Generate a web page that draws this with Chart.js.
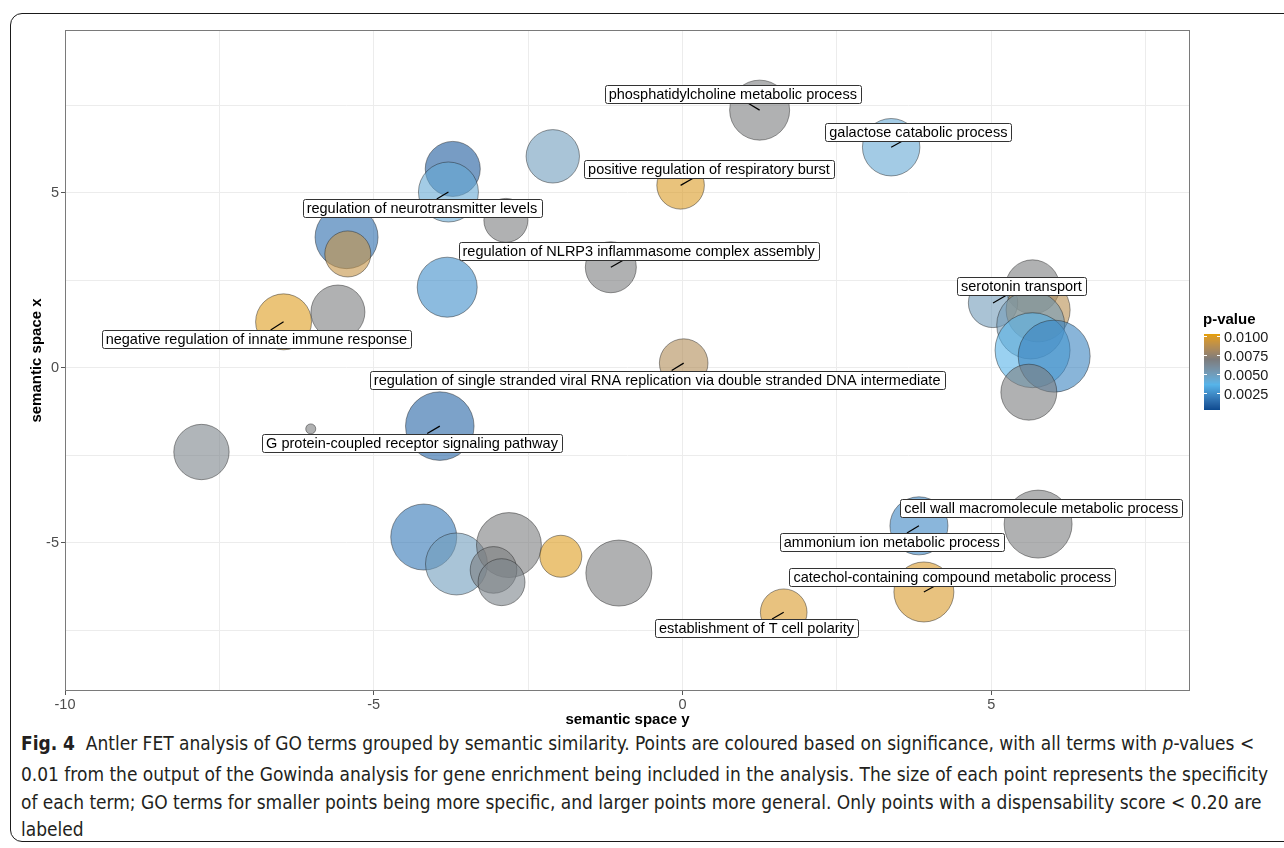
<!DOCTYPE html>
<html>
<head>
<meta charset="utf-8">
<title>Antler FET analysis of GO terms</title>
<script src="https://cdn.jsdelivr.net/npm/chart.js@4.4.1/dist/chart.umd.min.js"></script>
<style>
  html, body { margin: 0; padding: 0; background: #fff; width: 1284px; height: 848px; overflow: hidden; }
  #frame { position: absolute; left: 10px; top: 13px; width: 1320px; height: 829px; border: 1.5px solid #1a1a1a; border-radius: 12px; box-sizing: border-box; }
  #wrap { position: absolute; left: 0; top: 0; width: 1284px; height: 730px; }
  #caption { position: absolute; left: 21px; top: 730px; font-family: "Liberation Sans Narrow", "DejaVu Sans Condensed", "Liberation Sans", sans-serif; font-size: 19px; color: #231f20; }
  #caption .line { position: absolute; left: 0; white-space: nowrap; transform-origin: 0 50%; line-height: 22px; }
</style>
</head>
<body>
<div id="frame"></div>
<div id="wrap"><canvas id="chart" width="1284" height="730"></canvas></div>
<div id="caption">
  <div class="line" style="top:2px"><b>Fig. 4</b>&nbsp; Antler FET analysis of GO terms grouped by semantic similarity. Points are coloured based on significance, with all terms with <i>p</i>-values &lt;</div>
  <div class="line" style="top:33px">0.01 from the output of the Gowinda analysis for gene enrichment being included in the analysis. The size of each point represents the specificity</div>
  <div class="line" style="top:61px">of each term; GO terms for smaller points being more specific, and larger points more general. Only points with a dispensability score &lt; 0.20 are</div>
  <div class="line" style="top:88px">labeled</div>
</div>
<script>
// GO terms: position in semantic space, p-value and log10 term size
const semanticY = [-5.44, -5.42, -3.72, -3.79, -2.86, -2.10, 1.25, -0.03, -1.16, -3.81,
                    3.38, -6.46, -5.58, -6.02, -7.79, -3.93, 0.02, 5.67, 5.03, 5.76,
                    5.64, 5.67, 6.02, 5.61, -4.19, -3.66, -2.81, -3.06, -2.93, -1.97,
                   -1.03, 1.64, 3.83, 5.76, 3.91];
const semanticX = [3.73, 3.25, 5.68, 5.02, 4.21, 6.04, 7.36, 5.21, 2.87, 2.30,
                   6.30, 1.31, 1.59, -1.75, -2.41, -1.67, 0.13, 2.31, 1.85, 1.65,
                   1.22, 0.50, 0.33, -0.70, -4.84, -5.61, -5.07, -5.78, -6.13, -5.39,
                  -5.87, -6.99, -4.52, -4.47, -6.41];
const pValue = [0.0013, 0.0090, 0.0008, 0.0042, 0.0068, 0.0049, 0.0068, 0.0098, 0.0068, 0.0024,
                0.0042, 0.0099, 0.0068, 0.0068, 0.0064, 0.0011, 0.0084, 0.0068, 0.0050, 0.0086,
                0.0051, 0.0036, 0.0021, 0.0068, 0.0017, 0.0049, 0.0068, 0.0068, 0.0064, 0.0099,
                0.0068, 0.0097, 0.0022, 0.0068, 0.0097];
const logSize = [4.20, 3.07, 3.67, 4.00, 2.93, 3.56, 4.00, 3.17, 3.40, 4.00,
                 3.83, 3.73, 3.60, 0.67, 3.69, 4.57, 3.24, 3.60, 3.29, 4.27,
                 4.53, 5.00, 4.80, 3.73, 4.40, 4.13, 4.33, 3.11, 3.13, 2.80,
                 4.40, 3.11, 3.87, 4.53, 4.00];

// Labelled terms (dispensability < 0.20), the point each belongs to, and where its label sits
const labelText = [
  'phosphatidylcholine metabolic process',
  'galactose catabolic process',
  'positive regulation of respiratory burst',
  'regulation of neurotransmitter levels',
  'regulation of NLRP3 inflammasome complex assembly',
  'serotonin transport',
  'negative regulation of innate immune response',
  'regulation of single stranded viral RNA replication via double stranded DNA intermediate',
  'G protein-coupled receptor signaling pathway',
  'cell wall macromolecule metabolic process',
  'ammonium ion metabolic process',
  'catechol-containing compound metabolic process',
  'establishment of T cell polarity'
];
const labelPoint = [6, 10, 7, 3, 8, 18, 11, 16, 15, 33, 32, 34, 31];
const labelY = [0.815, 3.82, 0.43, -4.22, -0.71, 5.49, -6.90, -0.41, -4.38, 5.81, 3.39, 4.37, 1.20];
const labelX = [7.82, 6.73, 5.68, 4.56, 3.32, 2.32, 0.82, -0.34, -2.14, -4.02, -4.98, -5.97, -7.44];

// Axes
const xLimits = [-10, 8.22];
const yLimits = [-9.24, 9.65];
const xGridValues = [-10, -7.5, -5, -2.5, 0, 2.5, 5, 7.5];
const yGridValues = [-7.5, -5, -2.5, 0, 2.5, 5, 7.5];
const majorTicks = [-10, -5, 0, 5];

// Colour scale
const pLimits = [0.00025, 0.0102];
const gradientColours = ['#0B4A8F', '#56B4E9', '#7C7C7C', '#E69F00'];
const legendBreaks = [0.0025, 0.0050, 0.0075, 0.0100];
const legendLabels = ['0.0025', '0.0050', '0.0075', '0.0100'];

const FONT = '"Liberation Sans", Arial, Helvetica, sans-serif';

function sizeToRadius(s) { return 7.5 * s; }

// --- colour interpolation in CIE Lab ---
function toLin(c) { c /= 255; return c <= 0.04045 ? c / 12.92 : Math.pow((c + 0.055) / 1.055, 2.4); }
function fromLin(c) { c = Math.max(0, c); const v = c <= 0.0031308 ? 12.92 * c : 1.055 * Math.pow(c, 1 / 2.4) - 0.055; return Math.max(0, Math.min(255, Math.round(v * 255))); }
function hexRgb(h) { return [parseInt(h.slice(1, 3), 16), parseInt(h.slice(3, 5), 16), parseInt(h.slice(5, 7), 16)]; }
const WX = 0.95047, WZ = 1.08883;
function fLab(t) { return t > 0.008856 ? Math.cbrt(t) : 7.787 * t + 16 / 116; }
function fInv(t) { return t > 0.206893 ? t * t * t : (t - 16 / 116) / 7.787; }
function rgbLab(rgb) {
  const R = toLin(rgb[0]), G = toLin(rgb[1]), B = toLin(rgb[2]);
  const X = (0.4124 * R + 0.3576 * G + 0.1805 * B) / WX;
  const Y = 0.2126 * R + 0.7152 * G + 0.0722 * B;
  const Z = (0.0193 * R + 0.1192 * G + 0.9505 * B) / WZ;
  const fx = fLab(X), fy = fLab(Y), fz = fLab(Z);
  return [116 * fy - 16, 500 * (fx - fy), 200 * (fy - fz)];
}
function labRgb(lab) {
  const fy = (lab[0] + 16) / 116, fx = fy + lab[1] / 500, fz = fy - lab[2] / 200;
  const X = fInv(fx) * WX, Y = fInv(fy), Z = fInv(fz) * WZ;
  return [fromLin(3.2406 * X - 1.5372 * Y - 0.4986 * Z),
          fromLin(-0.9689 * X + 1.8758 * Y + 0.0415 * Z),
          fromLin(0.0557 * X - 0.2040 * Y + 1.0570 * Z)];
}
const gradientLab = gradientColours.map(c => rgbLab(hexRgb(c)));
function pColour(p, alpha) {
  let t = (p - pLimits[0]) / (pLimits[1] - pLimits[0]);
  t = Math.max(0, Math.min(1, t));
  const n = gradientLab.length - 1;
  const i = Math.min(n - 1, Math.floor(t * n));
  const f = t * n - i;
  const a = gradientLab[i], b = gradientLab[i + 1];
  const rgb = labRgb([a[0] + (b[0] - a[0]) * f, a[1] + (b[1] - a[1]) * f, a[2] + (b[2] - a[2]) * f]);
  return `rgba(${rgb[0]},${rgb[1]},${rgb[2]},${alpha})`;
}

// Labels with leader segments, panel border and the p-value colour bar
const overlayPlugin = {
  id: 'overlay',
  afterDatasetsDraw(chart) {
    const { ctx, chartArea: area, scales: { x, y } } = chart;
    ctx.save();
    ctx.font = '14.5px ' + FONT;
    const boxes = labelText.map((text, i) => {
      const k = labelPoint[i];
      return {
        text,
        cx: x.getPixelForValue(labelY[i]),
        cy: y.getPixelForValue(labelX[i]),
        w: ctx.measureText(text).width + 8,
        h: 18,
        px: x.getPixelForValue(semanticY[k]),
        py: y.getPixelForValue(semanticX[k])
      };
    });
    // leader segments
    ctx.strokeStyle = '#000';
    ctx.lineWidth = 1.2;
    boxes.forEach(b => {
      const dx = b.px - b.cx, dy = b.py - b.cy;
      const tx = dx ? (b.w / 2) / Math.abs(dx) : Infinity;
      const ty = dy ? (b.h / 2) / Math.abs(dy) : Infinity;
      const t = Math.min(tx, ty);
      if (t >= 1) return;
      const ex = b.cx + dx * t, ey = b.cy + dy * t;
      if (Math.hypot(b.px - ex, b.py - ey) < 8) return;
      ctx.beginPath();
      ctx.moveTo(ex, ey);
      ctx.lineTo(b.px, b.py);
      ctx.stroke();
    });
    // label boxes
    boxes.forEach(b => {
      const l = Math.round(b.cx - b.w / 2) + 0.5, t = Math.round(b.cy - b.h / 2) + 0.5;
      ctx.beginPath();
      ctx.roundRect(l, t, Math.round(b.w), b.h, 2);
      ctx.fillStyle = '#fff';
      ctx.fill();
      ctx.strokeStyle = '#333';
      ctx.lineWidth = 1;
      ctx.stroke();
      ctx.fillStyle = '#000';
      ctx.textAlign = 'center';
      ctx.textBaseline = 'middle';
      ctx.fillText(b.text, b.cx, b.cy + 1);
    });
    // panel border
    ctx.strokeStyle = '#7a7a7a';
    ctx.lineWidth = 1;
    ctx.strokeRect(area.left + 0.5, area.top + 0.5, area.width - 1, area.height - 1);

    // colour bar legend
    const barL = area.right + 14, barW = 16, barTop = 334, barBot = 410;
    for (let yy = barTop; yy < barBot; yy++) {
      const p = pLimits[1] - (yy + 0.5 - barTop) / (barBot - barTop) * (pLimits[1] - pLimits[0]);
      ctx.fillStyle = pColour(p, 1);
      ctx.fillRect(barL, yy, barW, 1);
    }
    ctx.strokeStyle = '#fff';
    ctx.lineWidth = 1;
    ctx.fillStyle = '#1a1a1a';
    ctx.font = '14.5px ' + FONT;
    ctx.textAlign = 'left';
    ctx.textBaseline = 'middle';
    legendBreaks.forEach((v, i) => {
      const yy = Math.round(barTop + (pLimits[1] - v) / (pLimits[1] - pLimits[0]) * (barBot - barTop)) + 0.5;
      ctx.beginPath();
      ctx.moveTo(barL, yy); ctx.lineTo(barL + 3, yy);
      ctx.moveTo(barL + barW - 3, yy); ctx.lineTo(barL + barW, yy);
      ctx.stroke();
      ctx.fillText(legendLabels[i], barL + barW + 4, yy + 1);
    });
    ctx.font = 'bold 15px ' + FONT;
    ctx.fillStyle = '#000';
    ctx.fillText('p-value', barL - 1, 320);
    ctx.restore();
  }
};

const tickFont = { family: FONT, size: 14.5 };
const titleFont = { family: FONT, size: 15, weight: 'bold' };
const tickMarkColour = ctx => (ctx.tick && majorTicks.includes(ctx.tick.value)) ? '#555' : 'rgba(0,0,0,0)';

new Chart(document.getElementById('chart'), {
  type: 'bubble',
  data: {
    datasets: [{
      data: semanticY.map((v, i) => ({ x: v, y: semanticX[i], r: sizeToRadius(logSize[i]) })),
      backgroundColor: pValue.map(p => pColour(p, 0.6)),
      borderColor: 'rgba(30,30,30,0.5)',
      borderWidth: 0.9
    }]
  },
  options: {
    responsive: false,
    animation: false,
    devicePixelRatio: 1,
    events: [],
    layout: { autoPadding: false, padding: { left: 0, right: 94, top: 30, bottom: 0 } },
    plugins: { legend: { display: false }, tooltip: { enabled: false } },
    scales: {
      x: {
        type: 'linear', min: xLimits[0], max: xLimits[1],
        afterFit(s) { s.height = 39; s.paddingLeft = 0; s.paddingRight = 0; },
        afterBuildTicks(s) { s.ticks = xGridValues.map(v => ({ value: v })); },
        ticks: { callback: v => majorTicks.includes(v) ? String(v) : '', color: '#4d4d4d', font: tickFont, padding: 1, maxRotation: 0, autoSkip: false },
        grid: { color: '#ececec', lineWidth: 1, tickLength: 4, tickColor: tickMarkColour },
        border: { display: false },
        title: { display: true, text: 'semantic space y', color: '#000', font: titleFont, padding: { top: 0, bottom: 1 } }
      },
      y: {
        type: 'linear', min: yLimits[0], max: yLimits[1],
        afterFit(s) { s.width = 65; s.paddingTop = 0; s.paddingBottom = 0; },
        afterBuildTicks(s) { s.ticks = yGridValues.map(v => ({ value: v })); },
        ticks: { callback: v => majorTicks.includes(v) ? String(v) : '', color: '#4d4d4d', font: tickFont, padding: 2, autoSkip: false },
        grid: { color: '#ececec', lineWidth: 1, tickLength: 4, tickColor: tickMarkColour },
        border: { display: false },
        title: { display: true, text: 'semantic space x', color: '#000', font: titleFont, padding: { top: 28, bottom: 0 } }
      }
    }
  },
  plugins: [overlayPlugin]
});

// Fit the caption lines to the text block width
function fitCaption() {
  const lines = document.querySelectorAll('#caption .line');
  lines.forEach(l => l.style.transform = 'none');
  const natural = lines[1].getBoundingClientRect().width;
  const s = 1247 / natural;
  lines.forEach(l => l.style.transform = `scaleX(${s})`);
}
fitCaption();
if (document.fonts && document.fonts.ready) document.fonts.ready.then(fitCaption);
</script>
</body>
</html>
